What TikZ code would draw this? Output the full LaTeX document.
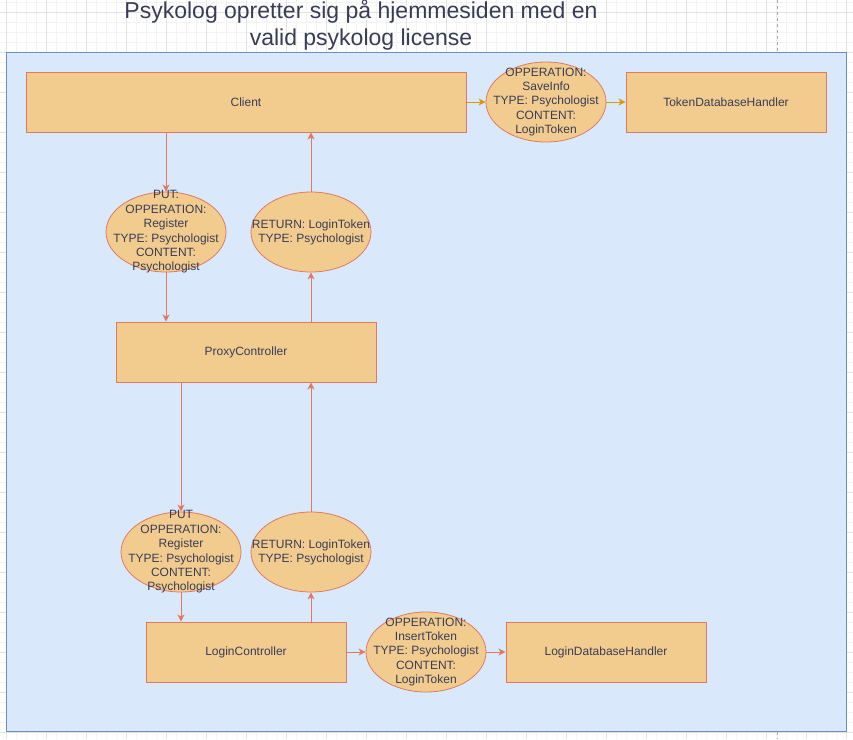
\documentclass[tikz,border=0pt]{standalone}
\usepackage{fontspec}
\setmainfont{Liberation Sans}
\usetikzlibrary{shapes.geometric,arrows.meta}
\definecolor{boxfill}{HTML}{F2CC8F}
\definecolor{boxdraw}{HTML}{E07A5F}
\definecolor{txt}{HTML}{393C56}
\definecolor{contfill}{HTML}{DAE8FC}
\definecolor{contdraw}{HTML}{6C8EBF}
\definecolor{gold}{HTML}{D79B00}
\definecolor{gridminor}{HTML}{F3F3F3}
\definecolor{gridmajor}{HTML}{E2E2E2}
\begin{document}
\begin{tikzpicture}[x=1pt,y=-1pt,
  every node/.style={text=txt, font=\fontsize{12}{14.4}\selectfont},
  box/.style={draw=boxdraw, fill=boxfill, line width=1pt, inner sep=0pt, minimum height=60pt},
  msg/.style={ellipse, draw=boxdraw, fill=boxfill, line width=0.8pt, inner sep=0pt,
    minimum width=120pt, minimum height=80pt},
  msgtext/.style={align=center, inner sep=0pt},
  conn/.style={draw=boxdraw, line width=1pt, -{Stealth[length=7pt,width=7pt,inset=2pt]}},
  gconn/.style={draw=gold, line width=1pt, -{Stealth[length=7pt,width=7pt,inset=2pt]}}]
\useasboundingbox (0,0) rectangle (853,739);
\fill[white] (0,0) rectangle (853,739);
% grid
\foreach \x in {6,16,...,846} \draw[gridminor, line width=0.8pt] (\x,0) -- (\x,739);
\foreach \y in {2,12,...,732} \draw[gridminor, line width=0.8pt] (0,\y) -- (853,\y);
\foreach \x in {6,46,...,846} \draw[gridmajor, line width=0.8pt] (\x,0) -- (\x,739);
\foreach \y in {12,52,...,732} \draw[gridmajor, line width=0.8pt] (0,\y) -- (853,\y);
\draw[gray!70, dashed, line width=0.8pt] (777,0) -- (777,739);
% container
\draw[fill=contfill, draw=contdraw, line width=1pt] (6.5,52.5) rectangle (846.5,731.5);
% title
\node[align=center, font=\fontsize{23}{26.5}\selectfont, inner sep=0pt] (title) at (361,25)
  {Psykolog opretter sig på hjemmesiden med en\\valid psykolog license};
% boxes
\node[box, minimum width=440pt] (client) at (246,102) {Client};
\node[box, minimum width=200pt] (tokendb) at (726,102) {TokenDatabaseHandler};
\node[box, minimum width=260pt] (proxy) at (246,352) {ProxyController};
\node[box, minimum width=200pt] (login) at (246,652) {LoginController};
\node[box, minimum width=200pt] (logindb) at (606,652) {LoginDatabaseHandler};
% messages
\node[msg, label={[msgtext]center:OPPERATION:\\SaveInfo\\TYPE: Psychologist\\CONTENT:\\LoginToken}] (save) at (546,102) {};
\node[msg, label={[msgtext]center:PUT:\\OPPERATION:\\Register\\TYPE: Psychologist\\CONTENT:\\Psychologist}] (put1) at (166,232) {};
\node[msg, label={[msgtext, yshift=-0.5pt]center:RETURN: LoginToken\\TYPE: Psychologist}] (ret1) at (311,232) {};
\node[msg, label={[msgtext]center:PUT\\OPPERATION:\\Register\\TYPE: Psychologist\\CONTENT:\\Psychologist}] (put2) at (181,552) {};
\node[msg, label={[msgtext, yshift=-0.5pt]center:RETURN: LoginToken\\TYPE: Psychologist}] (ret2) at (311,552) {};
\node[msg, label={[msgtext]center:OPPERATION:\\InsertToken\\TYPE: Psychologist\\CONTENT:\\LoginToken}] (ins) at (426,652) {};
% connectors
\draw[gconn] (client.east) -- (save.west);
\draw[gconn] (save.east) -- (tokendb.west);
\draw[conn] (put1.north |- client.south) -- (put1.north);
\draw[conn] (put1.south) -- (put1.south |- proxy.north);
\draw[conn] (ret1.south |- proxy.north) -- (ret1.south);
\draw[conn] (ret1.north) -- (ret1.north |- client.south);
\draw[conn] (put2.north |- proxy.south) -- (put2.north);
\draw[conn] (put2.south) -- (put2.south |- login.north);
\draw[conn] (ret2.south |- login.north) -- (ret2.south);
\draw[conn] (ret2.north) -- (ret2.north |- proxy.south);
\draw[conn] (login.east) -- (ins.west);
\draw[conn] (ins.east) -- (logindb.west);
\end{tikzpicture}
\end{document}
